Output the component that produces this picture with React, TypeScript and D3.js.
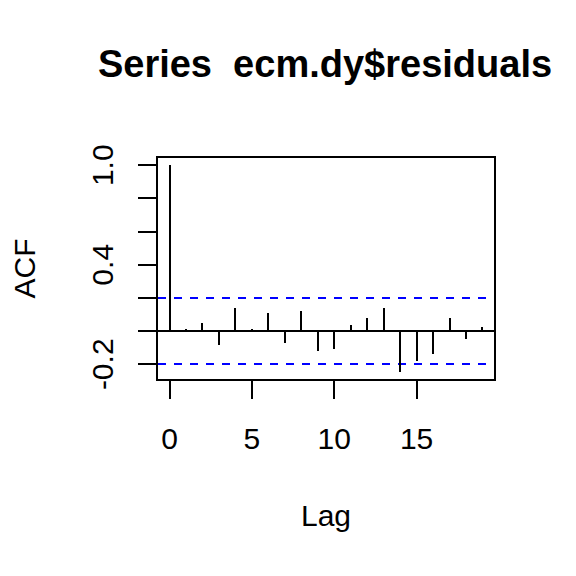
import React from "react";
import * as d3 from "d3";

const lags = [0, 1, 2, 3, 4, 5, 6, 7, 8, 9, 10, 11, 12, 13, 14, 15, 16, 17, 18, 19];
const acfValues = [1.0, 0.01, 0.048, -0.086, 0.137, 0.012, 0.107, -0.07, 0.119, -0.12,
  -0.11, 0.034, 0.077, 0.137, -0.245, -0.18, -0.139, 0.077, -0.047, 0.023];
const ciLevel = 0.199;
const xTicks = [0, 5, 10, 15];
const yTicks = [-0.2, 0.0, 0.2, 0.4, 0.6, 0.8, 1.0];
const yTickLabels = ["-0.2", "0.4", "1.0"];
const titleText = "Series  ecm.dy$residuals";
const xLabel = "Lag";
const yLabel = "ACF";

export default function App() {
  const W = 576, H = 576;
  const left = 157, right = 495, top = 157, bottom = 380;
  const xMin = d3.min(lags)!, xMax = d3.max(lags)!;
  const xPad = (xMax - xMin) * 0.04;
  const yLo = Math.min(d3.min(acfValues)!, -ciLevel), yHi = Math.max(d3.max(acfValues)!, ciLevel);
  const yPad = (yHi - yLo) * 0.04;
  const x = d3.scaleLinear().domain([xMin - xPad, xMax + xPad]).range([left, right]);
  const y = d3.scaleLinear().domain([yLo - yPad, yHi + yPad]).range([bottom, top]);
  const font = "'Liberation Sans', Arial, sans-serif";
  const tickLen = 19;
  const axisFont = 30;
  const sr = "crispEdges";

  return (
    <svg width={W} height={H} style={{ position: "absolute", left: 0, top: 0, background: "#fff" }}>
      <rect x={0} y={0} width={W} height={H} fill="#fff" />
      <text x={325} y={77} textAnchor="middle" fontFamily={font} fontWeight="bold" fontSize={38} style={{ whiteSpace: "pre" }}>{titleText}</text>
      {/* zero line */}
      <line x1={left} x2={right} y1={y(0)} y2={y(0)} stroke="#000" strokeWidth={2} shapeRendering={sr} />
      {/* CI lines */}
      {[ciLevel, -ciLevel].map((c, i) => (
        <line key={i} x1={left} x2={right} y1={y(c)} y2={y(c)} stroke="#0000ff" strokeWidth={2} strokeDasharray="8,8" strokeDashoffset={-1} shapeRendering={sr} />
      ))}
      {/* bars */}
      {lags.map((l, i) => (
        <line key={l} x1={x(l)} x2={x(l)} y1={y(0)} y2={y(acfValues[i])} stroke="#000" strokeWidth={2} shapeRendering={sr} />
      ))}
      {/* box */}
      <rect x={left} y={top} width={right - left} height={bottom - top} fill="none" stroke="#000" strokeWidth={2} shapeRendering={sr} />
      {/* x axis */}
      <line x1={x(xTicks[0])} x2={x(xTicks[xTicks.length - 1])} y1={bottom} y2={bottom} stroke="#000" strokeWidth={2} shapeRendering={sr} />
      {xTicks.map((t) => (
        <g key={t}>
          <line x1={x(t)} x2={x(t)} y1={bottom} y2={bottom + tickLen} stroke="#000" strokeWidth={2} shapeRendering={sr} />
          <text x={x(t)} y={449} textAnchor="middle" fontFamily={font} fontSize={axisFont}>{t}</text>
        </g>
      ))}
      {/* y axis */}
      <line x1={left} x2={left} y1={y(yTicks[0])} y2={y(yTicks[yTicks.length - 1])} stroke="#000" strokeWidth={2} shapeRendering={sr} />
      {yTicks.map((t) => {
        const lab = t.toFixed(1);
        return (
          <g key={t}>
            <line x1={left - tickLen} x2={left} y1={y(t)} y2={y(t)} stroke="#000" strokeWidth={2} shapeRendering={sr} />
            {yTickLabels.includes(lab) && (
              <text transform={`translate(113,${y(t)}) rotate(-90)`} textAnchor="middle" fontFamily={font} fontSize={axisFont}>{lab}</text>
            )}
          </g>
        );
      })}
      <text x={(left + right) / 2} y={526} textAnchor="middle" fontFamily={font} fontSize={axisFont}>{xLabel}</text>
      <text transform={`translate(35,${(top + bottom) / 2}) rotate(-90)`} textAnchor="middle" fontFamily={font} fontSize={axisFont}>{yLabel}</text>
    </svg>
  );
}
